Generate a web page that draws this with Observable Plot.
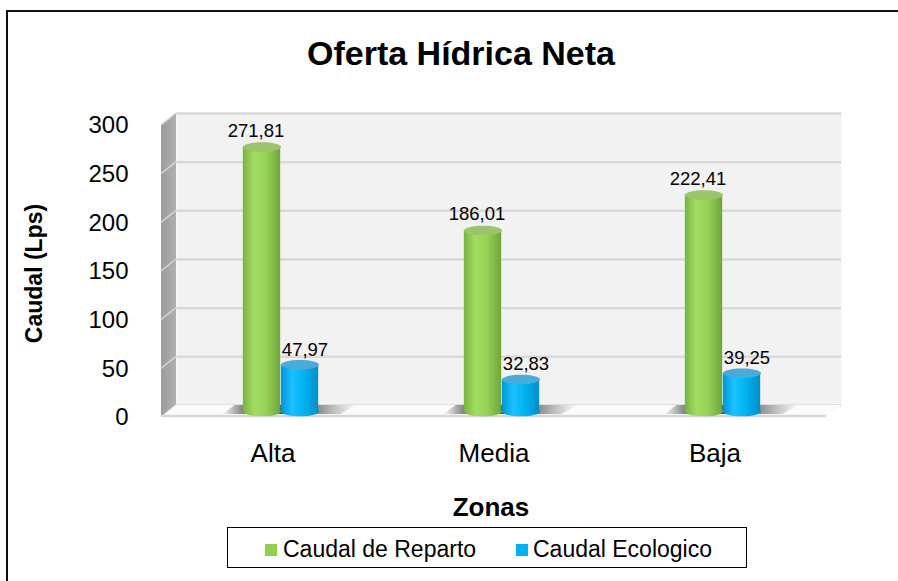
<!DOCTYPE html>
<html><head><meta charset="utf-8">
<script src="https://cdn.jsdelivr.net/npm/d3@7"></script>
<script src="https://cdn.jsdelivr.net/npm/@observablehq/plot@0.6"></script>
<style>
body{margin:0;background:#fff;font-family:"Liberation Sans",Arial,sans-serif;}
#wrap{position:relative;width:898px;height:581px;overflow:hidden;background:#fff;}
#border{position:absolute;left:6px;top:10px;width:1000px;height:1000px;border-left:2px solid #111;border-top:2px solid #111;}
#chart{position:absolute;left:0;top:0;}
#title{position:absolute;left:261px;width:400px;top:36px;text-align:center;font-weight:bold;font-size:34px;line-height:34px;color:#000;}
#xtitle{position:absolute;left:291px;width:400px;top:494px;text-align:center;font-weight:bold;font-size:26px;line-height:26px;color:#000;}
#legend{position:absolute;left:227px;top:527px;width:518px;height:39px;border:1.5px solid #000;}
.sw{position:absolute;width:12px;height:12px;top:16px;}
.lt{position:absolute;top:8px;font-size:23px;line-height:26px;color:#000;white-space:nowrap;}
</style></head>
<body>
<div id="wrap">
  <div id="border"></div>
  <div id="chart"></div>
  <div id="title">Oferta Hídrica Neta</div>
  <div id="xtitle">Zonas</div>
  <div id="legend"></div>
</div>
<script>
// ---- data ----
const zones = ["Alta", "Media", "Baja"];
const reparto = [271.81, 186.01, 222.41];
const ecologico = [47.97, 32.83, 39.25];
const yTicks = [0, 50, 100, 150, 200, 250, 300];
const seriesNames = ["Caudal de Reparto", "Caudal Ecologico"];
const seriesColors = ["#92d050", "#00b0f0"];
const yLabel = "Caudal (Lps)";

// ---- geometry / style ----
const W = 898, H = 581, mL = 161, mR = 72, mT = 125, mB = 164;
const DX = 15, DY = 12;           // 3D depth offset of back wall
const barW = 38, off = 8;         // bar width and group offset from band center
const barDy = -DY / 2;
const half = (W - mL - mR) / zones.length / 2;

const greenData = zones.map((z, i) => ({zone: z, value: reparto[i]}));
const blueData = zones.map((z, i) => ({zone: z, value: ecologico[i]}));
const fmt = v => v.toFixed(2).replace(".", ",");

const ellipse = {
  draw(ctx, size) {
    const rx = Math.sqrt(size / Math.PI), ry = rx * 0.25, k = 0.5523;
    ctx.moveTo(-rx, 0);
    ctx.bezierCurveTo(-rx, -ry * k, -rx * k, -ry, 0, -ry);
    ctx.bezierCurveTo(rx * k, -ry, rx, -ry * k, rx, 0);
    ctx.bezierCurveTo(rx, ry * k, rx * k, ry, 0, ry);
    ctx.bezierCurveTo(-rx * k, ry, -rx, ry * k, -rx, 0);
    ctx.closePath();
  }
};

function decor(index, scales, values, dim) {
  const l = dim.marginLeft, t = dim.marginTop, r = dim.width - dim.marginRight, b = dim.height - dim.marginBottom;
  const g = d3.create("svg:g");
  // side wall
  g.append("path").attr("d", `M${l},${t}L${l + DX},${t - DY}L${l + DX},${b - DY}L${l},${b}Z`).attr("fill", "url(#gSide)");
  for (const v of yTicks) {
    const y = scales.y(v);
    g.append("line").attr("x1", l).attr("y1", y).attr("x2", l + DX).attr("y2", y - DY)
      .attr("stroke", "#d4d4d4").attr("stroke-width", 1.5);
  }
  // floor
  g.append("path").attr("d", `M${l},${b}L${l + DX},${b - DY}L${r + DX},${b - DY}L${r},${b}Z`).attr("fill", "#fbfbfb");
  g.append("line").attr("x1", l).attr("y1", b - 1).attr("x2", r).attr("y2", b - 1).attr("stroke", "#d6d6d6").attr("stroke-width", 2.5);
  // shadows of bar groups
  const bw = scales.x.bandwidth ? scales.x.bandwidth() : (r - l) / zones.length;
  for (const z of zones) {
    const c = scales.x(z) + bw / 2 + off;
    const gl = c - barW, gr = c + barW;
    const yb = b - DY / 2;
    g.append("path")
      .attr("d", `M${gl - 20},${yb + 3}L${gl - 8},${yb - 6}L${gr + 38},${yb - 6}L${gr + 22},${yb + 3}Z`)
      .attr("fill", "url(#gShadow)");
  }
  return g.node();
}

const plot = Plot.plot({
  width: W, height: H,
  marginLeft: mL, marginRight: mR, marginTop: mT, marginBottom: mB,
  x: {type: "band", domain: zones, padding: 0, axis: null},
  y: {domain: [0, 300], axis: null},
  style: {fontFamily: "'Liberation Sans', Arial, sans-serif", color: "#000", background: "transparent"},
  marks: [
    Plot.frame({fill: "#f2f2f2", stroke: null, dx: DX, dy: -DY}),
    Plot.ruleY(yTicks, {stroke: "#d9d9d9", strokeWidth: 2.5, dx: DX, dy: -DY}),
    decor,
    // bars: green (reparto)
    Plot.dot(greenData, {x: "zone", y: () => 0, r: barW / 2, symbol: ellipse, fill: "url(#gGreen)", dx: off - barW / 2, dy: barDy}),
    Plot.barY(greenData, {x: "zone", y: "value", fill: "url(#gGreen)",
      insetLeft: half + off - barW, insetRight: half - off, dy: barDy}),
    Plot.dot(greenData, {x: "zone", y: "value", r: barW / 2, symbol: ellipse, fill: "#9cc46c", dx: off - barW / 2, dy: barDy}),
    // bars: blue (ecologico)
    Plot.dot(blueData, {x: "zone", y: () => 0, r: barW / 2, symbol: ellipse, fill: "url(#gBlue)", dx: off + barW / 2, dy: barDy}),
    Plot.barY(blueData, {x: "zone", y: "value", fill: "url(#gBlue)",
      insetLeft: half + off, insetRight: half - off - barW, dy: barDy}),
    Plot.dot(blueData, {x: "zone", y: "value", r: barW / 2, symbol: ellipse, fill: "#4aaad8", dx: off + barW / 2, dy: barDy}),
    // value labels
    Plot.text(greenData, {x: "zone", y: "value", text: d => fmt(d.value), dx: off - barW / 2 - 6, dy: barDy - 16,
      lineAnchor: "middle", fontSize: 18.5, fill: "#000"}),
    Plot.text(blueData, {x: "zone", y: "value", text: d => fmt(d.value), dx: off + barW / 2 + 5, dy: barDy - 15,
      lineAnchor: "middle", fontSize: 18.5, fill: "#000"}),
    // axes
    Plot.axisY(yTicks, {tickSize: 0, tickPadding: 33, fontSize: 24, label: null, tickFormat: d => String(d)}),
    Plot.axisX({tickSize: 0, tickPadding: 26, fontSize: 26, label: null}),
    Plot.text([yLabel], {text: d => d, frameAnchor: "left", textAnchor: "middle", rotate: -90, dx: 34 - mL, dy: 2,
      fontSize: 23, fontWeight: "bold", fill: "#000"})
  ]
});

// gradients for the cylinder look
const defs = d3.create("svg:defs");
function lin(id, stops, x2 = "100%", y2 = "0%") {
  const gr = defs.append("linearGradient").attr("id", id).attr("x1", "0%").attr("y1", "0%").attr("x2", x2).attr("y2", y2);
  stops.forEach(([o, c, a]) => gr.append("stop").attr("offset", o).attr("stop-color", c).attr("stop-opacity", a == null ? 1 : a));
}
lin("gGreen", [["0%", "#78b340"], ["30%", "#a2dc60"], ["60%", "#98d358"], ["100%", "#6ea63a"]]);
lin("gBlue", [["0%", "#0096d2"], ["30%", "#1cc2ff"], ["60%", "#00b3f2"], ["100%", "#008ec6"]]);
lin("gSide", [["0%", "#9c9c9c"], ["100%", "#b0b0b0"]]);
lin("gShadow", [["0%", "#000", 0], ["25%", "#222", 0.85], ["60%", "#333", 0.8], ["100%", "#555", 0]]);
plot.insertBefore(defs.node(), plot.firstChild);
document.getElementById("chart").appendChild(plot);

// legend
const leg = document.getElementById("legend");
const legPos = [[37, 55], [288, 305]];
seriesNames.forEach((n, i) => {
  const s = document.createElement("div"); s.className = "sw";
  s.style.left = legPos[i][0] + "px"; s.style.background = seriesColors[i]; leg.appendChild(s);
  const t = document.createElement("div"); t.className = "lt";
  t.style.left = legPos[i][1] + "px"; t.textContent = n; leg.appendChild(t);
});
</script>
</body></html>
